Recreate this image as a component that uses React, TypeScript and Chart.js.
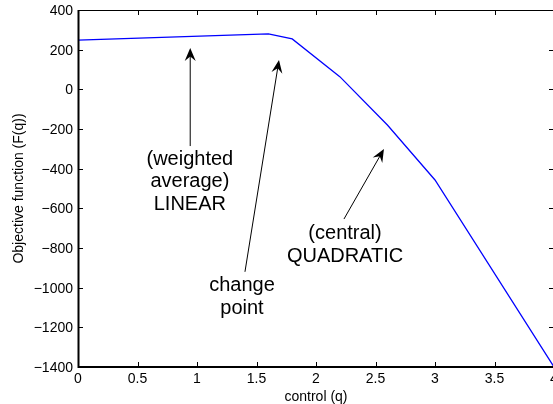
import React, { useEffect, useRef } from 'react';
import { Chart, registerables } from 'chart.js';

Chart.register(...registerables);

// Data
const qValues = [0, 1.6, 1.8, 2.2, 2.6, 3.0, 4.0];
const fValues = [248, 279, 254, 64, -180, -457, -1400];

const xMin = 0;
const xMax = 4;
const xStep = 0.5;
const yMin = -1400;
const yMax = 400;
const yStep = 200;

const xTitle = 'control (q)';
const yTitle = 'Objective function (F(q))';

// Annotations (data coordinates)
const arrowTails = [
  [0.943, -286],
  [1.403, -920],
  [2.235, -654],
];
const arrowTips = [
  [0.943, 208],
  [1.689, 148],
  [2.571, -301],
];
const noteLines = [
  ['(weighted', 'average)', 'LINEAR'],
  ['change', 'point'],
  ['(central)', 'QUADRATIC'],
];
const noteAnchors = [
  [0.94, -381],
  [1.378, -1017],
  [2.244, -755],
];

const FONT = '"Liberation Sans", Arial, Helvetica, sans-serif';

const fmt = (v: number) => (v < 0 ? '\u2212' + Math.abs(v) : String(v));

const framePlugin = {
  id: 'matlabFrame',
  afterDraw(chart: any) {
    const { ctx, chartArea } = chart;
    const xs = chart.scales.x;
    const ys = chart.scales.y;
    const { left, right, top, bottom } = chartArea;
    ctx.save();
    ctx.strokeStyle = '#000';
    // frame
    ctx.lineWidth = 2;
    ctx.beginPath();
    ctx.moveTo(left + 0.5, top);
    ctx.lineTo(left + 0.5, bottom + 1);
    ctx.moveTo(left - 0.5, bottom);
    ctx.lineTo(right + 1, bottom);
    ctx.stroke();
    ctx.lineWidth = 1;
    ctx.beginPath();
    ctx.moveTo(left, top + 0.5);
    ctx.lineTo(right, top + 0.5);
    ctx.moveTo(right + 0.5, top);
    ctx.lineTo(right + 0.5, bottom);
    ctx.stroke();
    // inward ticks
    const tl = 5;
    ctx.beginPath();
    xs.ticks.forEach((t: any) => {
      const px = Math.round(xs.getPixelForValue(t.value)) + 0.5;
      ctx.moveTo(px, bottom);
      ctx.lineTo(px, bottom - tl);
      ctx.moveTo(px, top);
      ctx.lineTo(px, top + tl);
    });
    ys.ticks.forEach((t: any) => {
      const py = Math.round(ys.getPixelForValue(t.value)) + 0.5;
      ctx.moveTo(left, py);
      ctx.lineTo(left + tl, py);
      ctx.moveTo(right, py);
      ctx.lineTo(right - tl, py);
    });
    ctx.stroke();

    // arrows
    ctx.fillStyle = '#000';
    for (let i = 0; i < arrowTails.length; i++) {
      const x0 = xs.getPixelForValue(arrowTails[i][0]);
      const y0 = ys.getPixelForValue(arrowTails[i][1]);
      const x1 = xs.getPixelForValue(arrowTips[i][0]);
      const y1 = ys.getPixelForValue(arrowTips[i][1]);
      const dx = x1 - x0;
      const dy = y1 - y0;
      const len = Math.hypot(dx, dy);
      const ux = dx / len;
      const uy = dy / len;
      const nx = -uy;
      const ny = ux;
      const L = 13;
      const W = 5.5;
      ctx.lineWidth = 1;
      ctx.strokeStyle = '#000';
      ctx.beginPath();
      ctx.moveTo(x0, y0);
      ctx.lineTo(x1 - ux * L * 0.6, y1 - uy * L * 0.6);
      ctx.stroke();
      ctx.beginPath();
      ctx.moveTo(x1, y1);
      ctx.lineTo(x1 - ux * L + nx * W, y1 - uy * L + ny * W);
      ctx.lineTo(x1 - ux * L * 0.65, y1 - uy * L * 0.65);
      ctx.lineTo(x1 - ux * L - nx * W, y1 - uy * L - ny * W);
      ctx.closePath();
      ctx.fill();
    }

    // notes
    ctx.font = `20px ${FONT}`;
    ctx.textAlign = 'center';
    ctx.textBaseline = 'alphabetic';
    ctx.fillStyle = '#000';
    for (let i = 0; i < noteLines.length; i++) {
      const cx = xs.getPixelForValue(noteAnchors[i][0]);
      const cy = ys.getPixelForValue(noteAnchors[i][1]);
      noteLines[i].forEach((s, j) => {
        ctx.fillText(s, cx, cy + j * 22.5);
      });
    }
    ctx.restore();
  },
};

export default function App() {
  const ref = useRef<HTMLCanvasElement | null>(null);

  useEffect(() => {
    if (!ref.current) return;
    const chart = new Chart(ref.current, {
      type: 'line',
      data: {
        datasets: [
          {
            data: qValues.map((q, i) => ({ x: q, y: fValues[i] })),
            borderColor: '#0000ff',
            borderWidth: 1.25,
            pointRadius: 0,
            tension: 0,
            fill: false,
          },
        ],
      },
      options: {
        animation: false,
        responsive: false,
        devicePixelRatio: 1,
        layout: { padding: { left: 0, right: 6, top: 10, bottom: 0 } },
        plugins: {
          legend: { display: false },
          tooltip: { enabled: false },
        },
        scales: {
          x: {
            type: 'linear',
            min: xMin,
            max: xMax,
            grid: { display: false, drawTicks: false },
            border: { display: false },
            ticks: {
              stepSize: xStep,
              padding: 4,
              color: '#000',
              font: { family: FONT, size: 14 },
              maxRotation: 0,
              callback: (v: any) => String(v),
            },
            title: {
              display: true,
              text: xTitle,
              color: '#000',
              font: { family: FONT, size: 14 },
              padding: { top: 0, bottom: -2 },
            },
            afterFit: (s: any) => {
              s.height = 37;
              s.paddingLeft = 0;
              s.paddingRight = 0;
            },
          },
          y: {
            type: 'linear',
            min: yMin,
            max: yMax,
            grid: { display: false, drawTicks: false },
            border: { display: false },
            ticks: {
              stepSize: yStep,
              padding: 5,
              labelOffset: 1,
              color: '#000',
              font: { family: FONT, size: 14 },
              callback: (v: any) => fmt(v),
            },
            title: {
              display: true,
              text: yTitle,
              color: '#000',
              font: { family: FONT, size: 14 },
              padding: { top: 11, bottom: 0 },
            },
            afterFit: (s: any) => {
              s.width = 78;
              s.paddingTop = 0;
              s.paddingBottom = 0;
            },
          },
        },
      },
      plugins: [framePlugin],
    } as any);
    return () => chart.destroy();
  }, []);

  return (
    <div
      style={{
        position: 'fixed',
        left: 0,
        top: 0,
        width: 553,
        height: 404,
        overflow: 'hidden',
        background: '#fff',
      }}
    >
      <canvas ref={ref} width={560} height={404} style={{ display: 'block' }} />
    </div>
  );
}
